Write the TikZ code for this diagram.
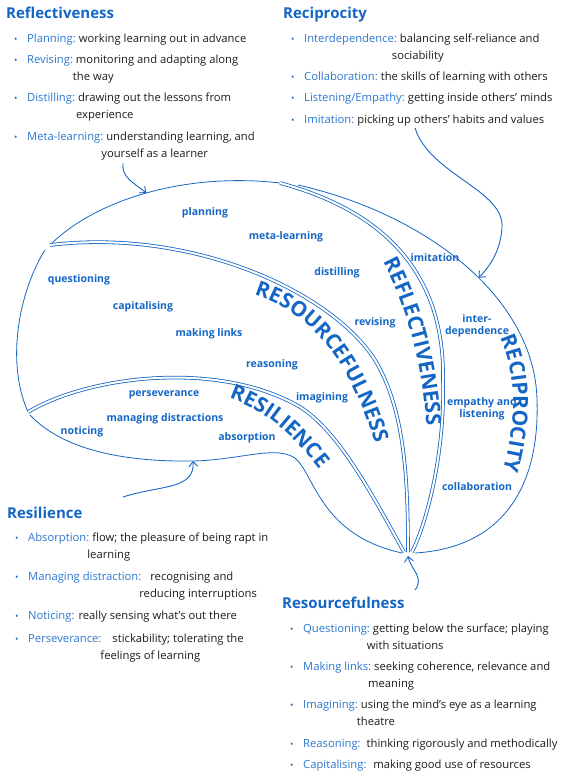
\documentclass[tikz,border=0pt]{standalone}
\usepackage{fontspec}
\setmainfont{Open Sans}
\usetikzlibrary{arrows.meta, positioning, decorations.text}
\definecolor{colBlue}{RGB}{20,102,196}
\definecolor{colTerm}{RGB}{44,118,208}
\definecolor{colText}{RGB}{28,28,28}

\newcommand{\petalfont}{\bfseries\fontsize{21}{21}\selectfont}
\newcommand{\bulletmark}{\makebox[13pt][l]{\textcolor{colBlue}{\fontsize{9}{9}\selectfont •}}}
\newcommand{\skillentry}[3][3pt]{%
  \begin{tabular}[t]{@{}l@{\hspace{#1}}l@{}}\bulletmark\textcolor{colTerm}{#2} & #3\end{tabular}}

\tikzset{
  heading/.style={
    font=\fontsize{15}{18}\selectfont\bfseries, text=colBlue,
    inner sep=0pt, anchor=base west
  },
  entrybox/.style={
    font=\fontsize{11.25}{17}\selectfont, text=colText, inner sep=0pt
  },
  nextentry/.style={
    entrybox, below=4pt of #1.south west, anchor=north west
  },
  skill/.style={
    font=\fontsize{10.5}{12.5}\selectfont\bfseries, text=colBlue,
    align=center, inner sep=0pt
  },
  petal/.style={draw=colBlue, line width=0.8pt},
  seam/.style={petal, double=white, double distance=2pt},
  pointer/.style={
    draw=colBlue, line width=0.9pt,
    -{Straight Barb[length=5pt, width=9pt]}
  },
  bigword/.style={
    decorate, decoration={text along path, text color=colBlue,
    text={|\petalfont|#1}}
  },
}

\begin{document}
\begin{tikzpicture}[x=1pt, y=1pt]
\path[use as bounding box] (0,0) rectangle (562,-774);

%% ══════════════════════════════════════════════════════════════
%%  TEXT BLOCKS
%% ══════════════════════════════════════════════════════════════

% Reflectiveness (top left)
\node[heading] (rfHead) at (6,-18) {Reflectiveness};
\node[entrybox, anchor=base west] (rf1) at ([xshift=8pt, yshift=-24pt]rfHead.base west)
  {\skillentry{Planning:}{working learning out in advance}};
\node[nextentry=rf1] (rf2)
  {\skillentry{Revising:}{monitoring and adapting along\\ & \hspace*{-3pt}the way}};
\node[nextentry=rf2] (rf3)
  {\skillentry{Distilling:}{drawing out the lessons from\\ & \hspace*{-2pt}experience}};
\node[nextentry=rf3] (rf4)
  {\skillentry{Meta-learning:}{understanding learning, and\\ & \hspace*{-5pt}yourself as a learner}};

% Reciprocity (top right)
\node[heading] (rcHead) at (283,-18) {Reciprocity};
\node[entrybox, anchor=base west] (rc1) at ([xshift=8pt, yshift=-24pt]rcHead.base west)
  {\skillentry{Interdependence:}{balancing self-reliance and\\ & \hspace*{-8pt}sociability}};
\node[nextentry=rc1] (rc2)
  {\skillentry{Collaboration:}{the skills of learning with others}};
\node[nextentry=rc2] (rc3)
  {\skillentry{Listening/Empathy:}{getting inside others' minds}};
\node[nextentry=rc3] (rc4)
  {\skillentry{Imitation:}{picking up others' habits and values}};

% Resilience (bottom left)
\node[heading] (rsHead) at (7,-518) {Resilience};
\node[entrybox, anchor=base west] (rs1) at ([xshift=8pt, yshift=-23pt]rsHead.base west)
  {\skillentry{Absorption:}{flow; the pleasure of being rapt in\\ & \hspace*{-5pt}learning}};
\node[nextentry=rs1, yshift=-1pt] (rs2)
  {\skillentry[9pt]{Managing distraction:}{recognising and\\ & \hspace*{-11pt}reducing interruptions}};
\node[nextentry=rs2, yshift=-1pt] (rs3)
  {\skillentry[4pt]{Noticing:}{really sensing what's out there}};
\node[nextentry=rs3, yshift=-1pt] (rs4)
  {\skillentry[11pt]{Perseverance:}{stickability; tolerating the\\ & \hspace*{-12pt}feelings of learning}};

% Resourcefulness (bottom right)
\node[heading] (rsfHead) at (282,-608) {Resourcefulness};
\node[entrybox, anchor=base west] (rsf1) at ([xshift=8pt, yshift=-24pt]rsfHead.base west)
  {\skillentry{Questioning:}{getting below the surface; playing\\ & \hspace*{-6pt}with situations}};
\node[nextentry=rsf1] (rsf2)
  {\skillentry{Making links:}{seeking coherence, relevance and\\ & \hspace*{-6pt}meaning}};
\node[nextentry=rsf2] (rsf3)
  {\skillentry{Imagining:}{using the mind's eye as a learning\\ & \hspace*{-4pt}theatre}};
\node[nextentry=rsf3] (rsf4)
  {\skillentry[6pt]{Reasoning:}{thinking rigorously and methodically}};
\node[nextentry=rsf4] (rsf5)
  {\skillentry[7pt]{Capitalising:}{making good use of resources}};

%% ══════════════════════════════════════════════════════════════
%%  PETALS
%% ══════════════════════════════════════════════════════════════
\coordinate (tipA) at (50,-245);
\coordinate (tipB) at (280,-183);
\coordinate (tipC) at (298,-185);
\coordinate (tipD) at (45,-250);
\coordinate (tipE) at (28,-412);
\coordinate (tipF) at (30,-415);

% outer lines
\draw[petal] (tipA) .. controls (95,-200) and (185,-172) .. coordinate[pos=0.5] (rfHit) (tipB);
\draw[petal] (tipC) .. controls (430,-215) and (535,-300) .. coordinate[pos=0.55] (rcHit) (537,-400)
  .. controls (540,-490) and (500,-548) .. (415,-553);
\draw[petal] (tipD) .. controls (20,-290) and (5,-360) .. (tipE);
\draw[petal] (tipF) .. controls (65,-452) and (130,-462) .. (193,-461) coordinate (rsHit)
  .. controls (240,-460) and (275,-445) .. (295,-458)
  .. controls (315,-475) and (320,-535) .. (402,-553);

% seams
\draw[seam] (tipB) .. controls (380,-210) and (445,-270) .. (443,-380)
  .. controls (445,-450) and (428,-520) .. (412,-552);
\draw[seam] (tipA) .. controls (190,-228) and (330,-290) .. (375,-360)
  .. controls (405,-410) and (408,-480) .. (408,-552);
\draw[seam] (tipE) .. controls (90,-375) and (220,-360) .. (300,-407)
  .. controls (340,-432) and (375,-500) .. (404,-552);

% petal names
\path[bigword=REFLECTIVENESS] (383,-262) .. controls (403,-300) and (425,-360) .. (428,-450);
\path[bigword=RESOURCEFULNESS] (254,-295) .. controls (300,-310) and (350,-345) .. (381,-465);
\path[bigword=RECIPROCITY] (500,-338) .. controls (516,-375) and (520,-420) .. (496,-495);
\path[bigword=RESILIENCE] (229,-398) .. controls (262,-410) and (295,-430) .. (340,-498);

%% ══════════════════════════════════════════════════════════════
%%  SKILLS INSIDE THE PETALS
%% ══════════════════════════════════════════════════════════════
\node[skill] (planning) at (205,-213) {planning};
\node[skill] (metalearning) at (286,-237) {meta-learning};
\node[skill] (distilling) at (337,-273) {distilling};
\node[skill] (revising) at (375,-323) {revising};
\node[skill] (imitation) at (435,-258) {imitation};
\node[skill] (interdep) at (477,-326) {inter-\\dependence};
\node[skill] (empathy) at (482,-409) {empathy and\\listening};
\node[skill] (collab) at (477,-487) {collaboration};
\node[skill] (questioning) at (79,-280) {questioning};
\node[skill] (capitalising) at (143,-307) {capitalising};
\node[skill] (makinglinks) at (209,-334) {making links};
\node[skill] (reasoning) at (272,-365) {reasoning};
\node[skill] (imagining) at (322,-398) {imagining};
\node[skill] (perseverance) at (164,-395) {perseverance};
\node[skill] (managing) at (165,-419) {managing distractions};
\node[skill] (noticing) at (82,-432) {noticing};
\node[skill] (absorption) at (247,-438) {absorption};

%% ══════════════════════════════════════════════════════════════
%%  POINTERS FROM THE TEXT BLOCKS
%% ══════════════════════════════════════════════════════════════
\coordinate (rfFrom) at (123,-163);
\coordinate (rcFrom) at (415,-128);
\coordinate (rsFrom) at (123,-497);
\coordinate (rsfFrom) at (415,-590);
\coordinate (rsfHit) at (408,-556);

\draw[pointer] (rfFrom) .. controls (121,-177) and (134,-183) .. (rfHit);
\draw[pointer] (rcFrom) .. controls (430,-175) and (505,-190) .. (502,-228)
  .. controls (500,-252) and (490,-266) .. (rcHit);
\draw[pointer] (rsFrom) .. controls (160,-485) and (195,-490) .. (rsHit);
\draw[pointer] (rsfFrom) .. controls (425,-578) and (410,-568) .. (rsfHit);

\end{tikzpicture}
\end{document}
